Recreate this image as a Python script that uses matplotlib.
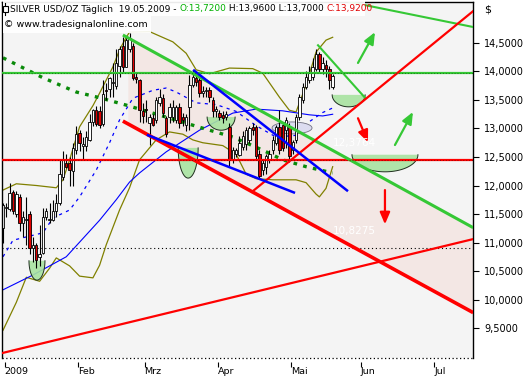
import numpy as np
import pandas as pd
import matplotlib
matplotlib.use("Agg")
import matplotlib.pyplot as plt
from matplotlib.patches import Ellipse, Rectangle
from matplotlib.lines import Line2D
from matplotlib.transforms import IdentityTransform
from matplotlib.ticker import FixedLocator, FixedFormatter

plt.rcParams['font.family'] = ['DejaVu Sans']

# ---------------- data (daily candles, bar index 0 = first trading day 2009) -------------
opens = [11.25, 11.60, 11.58, 11.88, 11.50, 11.80, 11.35, 11.40, 11.50, 10.90,
         10.95, 10.75, 10.82, 11.45, 11.40, 11.40, 11.55, 11.70, 12.15, 12.40,
         12.40, 12.25, 12.62, 12.92, 12.70, 12.70, 12.80, 13.12, 13.32, 13.30,
         13.08, 13.68, 13.70, 13.80, 13.75, 14.10, 14.45, 14.08, 14.40, 14.44,
         13.90, 13.85, 13.30, 13.35, 13.10, 13.18, 13.15, 13.45, 13.53, 13.18,
         13.20, 13.21, 13.15, 13.38, 13.21, 13.06, 13.38, 13.76, 13.88, 13.85,
         13.62, 13.65, 13.68, 13.50, 13.30, 13.27, 13.24, 13.20, 13.03, 12.45,
         12.55, 12.54, 12.68, 12.72, 12.80, 13.03, 13.03, 12.56, 12.27, 12.33,
         12.45, 12.62, 12.74, 13.03, 13.06, 12.97, 13.03, 12.62, 12.80, 13.21,
         13.50, 13.73, 13.85, 13.90, 14.05, 14.30, 14.05, 14.12, 14.05, 13.72]
highs = [11.70, 11.70, 12.05, 11.92, 11.90, 11.85, 11.55, 11.80, 11.55, 11.10,
         11.00, 11.30, 11.60, 11.60, 11.70, 11.75, 11.85, 12.45, 12.60, 12.55,
         12.50, 12.75, 13.05, 12.98, 12.85, 12.95, 13.25, 13.35, 13.40, 13.40,
         13.85, 13.80, 13.90, 14.15, 14.40, 14.45, 14.60, 14.62, 14.68, 14.50,
         13.98, 13.86, 13.45, 13.50, 13.25, 13.25, 13.55, 13.70, 13.60, 13.22,
         13.45, 13.50, 13.42, 13.45, 13.28, 13.25, 13.94, 14.03, 13.95, 13.91,
         13.75, 13.72, 13.73, 13.56, 13.40, 13.32, 13.30, 13.30, 13.09, 12.68,
         12.66, 12.86, 12.95, 13.03, 13.05, 13.10, 13.06, 12.62, 12.45, 12.56,
         12.62, 12.86, 13.06, 13.32, 13.10, 13.20, 13.09, 12.80, 13.25, 13.60,
         13.80, 14.00, 14.10, 14.23, 14.40, 14.35, 14.25, 14.20, 14.10, 13.96]
lows = [11.00, 11.45, 11.55, 11.50, 11.45, 11.20, 11.10, 10.95, 10.80, 10.65,
        10.55, 10.58, 10.80, 11.40, 11.35, 11.38, 11.45, 11.65, 12.10, 12.30,
        12.00, 12.00, 12.55, 12.60, 12.45, 12.60, 12.78, 13.05, 13.05, 13.00,
        13.05, 13.50, 13.55, 13.55, 13.70, 13.90, 13.98, 14.08, 14.35, 13.85,
        13.80, 13.12, 13.10, 13.12, 12.71, 13.05, 13.10, 13.40, 13.20, 12.85,
        13.10, 13.12, 13.10, 13.00, 13.05, 12.95, 12.97, 13.73, 13.75, 13.56,
        13.55, 13.55, 13.47, 13.21, 13.20, 13.15, 13.10, 13.15, 12.33, 12.40,
        12.50, 12.51, 12.62, 12.62, 12.75, 12.88, 12.45, 12.13, 12.18, 12.20,
        12.40, 12.56, 12.71, 12.55, 12.60, 12.65, 12.42, 12.55, 12.75, 13.15,
        13.45, 13.70, 13.80, 13.85, 14.00, 13.98, 13.95, 13.90, 13.70, 13.70]
closes = [11.65, 11.62, 11.86, 11.55, 11.85, 11.35, 11.45, 11.42, 10.90, 10.95,
          10.70, 10.80, 11.45, 11.55, 11.42, 11.55, 11.70, 12.20, 12.45, 12.33,
          12.28, 12.65, 12.90, 12.75, 12.72, 12.85, 13.12, 13.32, 13.08, 13.06,
          13.60, 13.65, 13.88, 13.82, 14.15, 14.40, 14.08, 14.55, 14.58, 13.88,
          13.86, 13.32, 13.22, 13.32, 13.21, 13.06, 13.50, 13.56, 13.27, 12.90,
          13.38, 13.38, 13.38, 13.09, 13.15, 13.21, 13.76, 13.90, 13.82, 13.62,
          13.65, 13.68, 13.56, 13.30, 13.35, 13.21, 13.18, 13.26, 12.45, 12.62,
          12.62, 12.74, 12.86, 12.97, 13.00, 12.97, 12.51, 12.16, 12.39, 12.51,
          12.56, 12.80, 13.03, 12.62, 12.65, 13.15, 12.51, 12.77, 13.21, 13.56,
          13.73, 13.90, 13.97, 14.08, 14.30, 14.05, 14.15, 14.05, 13.85, 13.92]

# Bollinger bands (olive) and middle band (blue dashed), read at sample bars
bb_upper_idx = [0, 4, 10, 16, 18, 20, 23, 27, 29, 33, 35, 37, 38, 44, 51, 55, 58, 62,
                68, 75, 78, 83, 86, 88, 91, 94, 97, 99]
bb_upper_val = [11.92, 12.03, 12.00, 11.96, 12.10, 12.45, 13.03, 13.40, 13.62, 14.08,
                14.38, 14.60, 14.69, 14.70, 14.52, 14.32, 14.03, 13.96, 14.06, 14.05,
                13.97, 13.55, 13.32, 13.29, 13.76, 14.34, 14.55, 14.60]
bb_lower_idx = [0, 4, 7, 11, 14, 16, 20, 23, 27, 29, 31, 35, 38, 41, 46, 50, 54, 57,
                60, 66, 70, 73, 76, 81, 88, 91, 94, 95, 97, 99]
bb_lower_val = [9.46, 9.95, 10.39, 10.32, 10.55, 10.73, 10.59, 10.41, 10.38, 10.60,
                10.96, 11.57, 11.96, 12.45, 12.80, 12.94, 12.90, 12.80, 12.75, 12.70,
                12.55, 12.20, 12.12, 12.10, 12.10, 12.05, 11.85, 11.80, 11.95, 12.33]
bb_mid_idx = [0, 3, 12, 15, 20, 23, 28, 32, 35, 39, 45, 49, 52, 58, 64, 70, 76, 82,
              88, 92, 96, 99]
bb_mid_val = [10.75, 11.04, 11.17, 11.43, 11.57, 11.80, 12.27, 12.75, 13.15, 13.53,
              13.67, 13.71, 13.64, 13.45, 13.42, 13.30, 13.05, 12.85, 12.88, 13.12,
              13.28, 13.36]
# long moving average (blue) and dotted moving average (dark green)
ma_blue_idx = [0, 9, 19, 29, 34, 38, 41, 49, 59, 69, 76, 84, 92, 96, 99]
ma_blue_val = [10.17, 10.43, 10.75, 11.39, 11.75, 12.06, 12.22, 12.59, 12.97, 13.27,
               13.34, 13.31, 13.24, 13.22, 13.25]
ma_green_idx = [0, 12, 22, 29, 37, 45, 49, 58, 69, 78, 84, 91, 99]
ma_green_val = [14.24, 13.89, 13.64, 13.54, 13.41, 13.27, 13.20, 13.04, 12.85, 12.62,
                12.45, 12.33, 12.22]

# drawing tools: trend lines as (bar, price) endpoint pairs
trend_green_main = [(36.0, 14.64), (141.2, 11.26)]
trend_green_top = [(104.0, 15.22), (141.2, 14.78)]
trend_green_short = [(94.6, 14.46), (108.7, 13.54)]
trend_red_channel = [(36.0, 13.13), (141.2, 9.77)]
trend_red_long = [(-0.3, 9.06), (141.2, 11.06)]
trend_red_steep = [(74.8, 11.89), (141.2, 15.06)]
trend_blue_upper = [(57.1, 14.03), (103.6, 11.90)]
trend_blue_lower = [(43.2, 12.89), (87.7, 11.87)]
channel_fill_start = 37.5
level_green = 13.98
level_red = 12.45
level_dotted = 10.90

# half-ellipse markers (centre bar, top price, half width in bars, depth in price)
semi_cx = [10.2, 55.6, 65.5, 103.8, 114.7]
semi_top = [10.68, 12.66, 13.20, 13.59, 12.54]
semi_hw = [2.4, 3.0, 4.2, 4.95, 9.9]
semi_depth = [0.34, 0.53, 0.23, 0.21, 0.30]
ellipse_center = (86.8, 13.01)
ellipse_size = (12.0, 0.21)

arrow_tails = [(106.6, 14.15), (117.7, 12.71), (106.6, 13.18), (114.7, 11.92)]
arrow_heads = [(111.7, 14.69), (123.1, 13.29), (109.6, 12.76), (114.7, 11.32)]
arrow_kinds = ['up', 'up', 'down', 'down']

level_labels = ['12,3764', '10,8275']
level_label_pos = [(99.1, 12.75), (99.1, 11.20)]

y_ticks = [9.5, 10.0, 10.5, 11.0, 11.5, 12.0, 12.5, 13.0, 13.5, 14.0, 14.5]
month_labels = ['2009', 'Feb', 'Mrz', 'Apr', 'Mai', 'Jun', 'Jul']
symbol = 'SILVER USD/OZ Täglich'
date_str = '19.05.2009'

# ---------------- figure ----------------
W, H = 531, 380
fig = plt.figure(figsize=(W / 100, H / 100), dpi=100)
fig.patch.set_facecolor('white')
ax = fig.add_axes([2 / W, 22 / H, 471 / W, 356 / H])
ax.set_facecolor('#f4f4f4')
XMIN, XMAX = -0.30, 141.14
YMIN, YMAX = 8.974, 15.219
ax.set_xlim(XMIN, XMAX)
ax.set_ylim(YMIN, YMAX)

GREEN = '#35c835'
RED = '#ff0000'
BLUE = '#0000ff'
OLIVE = '#808000'

def seg(p):
    return [p[0][0], p[1][0]], [p[0][1], p[1][1]]

# channel fill
gx, gy = seg(trend_green_main)
rx, ry = seg(trend_red_channel)
fx = np.array([channel_fill_start, XMAX + 1])
ax.fill_between(fx, np.interp(fx, gx, gy), np.interp(fx, rx, ry),
                color='#f3e7e4', zorder=0.5, lw=0)

ax.axhline(level_dotted, color='black', lw=0.8, ls=(0, (1, 2.5)), zorder=0.8)

# indicators
ax.plot(bb_upper_idx, bb_upper_val, color=OLIVE, lw=0.9, zorder=1)
ax.plot(bb_lower_idx, bb_lower_val, color=OLIVE, lw=0.9, zorder=1)
ax.plot(bb_mid_idx, bb_mid_val, color=BLUE, lw=0.9, ls=(0, (2.5, 3.5)), zorder=1)
ax.plot(ma_blue_idx, ma_blue_val, color=BLUE, lw=0.8, zorder=1)
ax.plot(ma_green_idx, ma_green_val, color='#0a8a0a', lw=2.4, ls=(0, (1.1, 1.9)),
        zorder=1.2)

# half ellipses
t = np.linspace(np.pi, 2 * np.pi, 60)
for cx, top, hw, d in zip(semi_cx, semi_top, semi_hw, semi_depth):
    xs = cx + hw * np.cos(t)
    ys = top + d * np.sin(t)
    ax.fill(xs, ys, color='#a8e3a0', alpha=0.9, lw=0, zorder=1.5)
    ax.plot(xs, ys, color='#1e2e1e', lw=0.7, zorder=1.6)
ax.add_patch(Ellipse(ellipse_center, ellipse_size[0], ellipse_size[1],
                     facecolor='#dcdcf0', edgecolor='#707080', lw=0.6, zorder=1.5))

# candles
x = np.arange(len(closes))
o = np.array(opens); c = np.array(closes); h = np.array(highs); l = np.array(lows)
ax.vlines(x, l, h, color='black', lw=0.8, zorder=2)
up = c >= o
body_lo = np.minimum(o, c)
body_h = np.maximum(np.abs(c - o), 0.02)
ax.bar(x, body_h, bottom=body_lo, width=0.72,
       color=np.where(up, 'white', '#e00000'), edgecolor='black', lw=0.6, zorder=2.2)

# horizontal levels
ax.axhline(level_green, color=GREEN, lw=1.6, zorder=3)
ax.axhline(level_green, color='#157a15', lw=0.7, ls=(0, (1, 2)), zorder=3.1)
ax.axhline(level_red, color=RED, lw=1.6, zorder=3)
ax.axhline(level_red, color='#990000', lw=0.7, ls=(0, (1, 2)), zorder=3.1)

# trend lines
ax.plot(*seg(trend_green_main), color=GREEN, lw=2.2, zorder=3, solid_capstyle='butt')
ax.plot(*seg(trend_green_top), color=GREEN, lw=1.5, zorder=3)
ax.plot(*seg(trend_green_short), color=GREEN, lw=1.5, zorder=3)
ax.plot(*seg(trend_red_channel), color=RED, lw=2.6, zorder=3, solid_capstyle='butt')
ax.plot(*seg(trend_red_long), color=RED, lw=1.6, zorder=3)
ax.plot(*seg(trend_red_steep), color=RED, lw=1.6, zorder=3)
ax.plot(*seg(trend_blue_upper), color=BLUE, lw=1.8, zorder=3, solid_capstyle='butt')
ax.plot(*seg(trend_blue_lower), color=BLUE, lw=1.8, zorder=3, solid_capstyle='butt')

# arrows
for tail, head, kind in zip(arrow_tails, arrow_heads, arrow_kinds):
    col = GREEN if kind == 'up' else RED
    ax.annotate('', xy=head, xytext=tail, zorder=4,
                arrowprops=dict(arrowstyle='-|>,head_length=0.7,head_width=0.3',
                                color=col, lw=1.6, shrinkA=0, shrinkB=0))

for txt, (px, py) in zip(level_labels, level_label_pos):
    ax.text(px, py, txt, color='white', fontsize=7.5, ha='left', va='center', zorder=4)

# axes styling
for s in ['top', 'left', 'right']:
    ax.spines[s].set_color('black')
    ax.spines[s].set_linewidth(1.0)
ax.spines['bottom'].set_position(('outward', 3))
ax.spines['bottom'].set_visible(False)
ax.plot([XMIN, XMAX], [YMIN, YMIN], color='black', lw=0.9, ls=(0, (1, 2)),
        clip_on=False, zorder=5)

ax.yaxis.tick_right()
ax.yaxis.set_major_locator(FixedLocator(y_ticks))
ax.yaxis.set_major_formatter(FixedFormatter([f'{v:.4f}'.replace('.', ',') for v in y_ticks]))
ax.tick_params(axis='y', direction='out', length=4, width=0.8, labelsize=7, pad=4,
               colors='black')

bdays = pd.bdate_range('2009-01-01', '2009-07-31')
month_pos = [i + 0.5 for i in range(len(bdays)) if i == 0 or bdays[i].month != bdays[i - 1].month]
ax.xaxis.set_major_locator(FixedLocator(month_pos[:len(month_labels)]))
ax.xaxis.set_major_formatter(FixedFormatter(month_labels))
ax.tick_params(axis='x', direction='out', length=3.5, width=0.8, labelsize=6.8, pad=0.3)
for lab in ax.get_xticklabels():
    lab.set_horizontalalignment('left')

fig.text(484 / W, 1 - 10 / H, '$', fontsize=8, ha='left', va='center')

# header boxes and text
fig.add_artist(Rectangle((3, H - 16), 362, 16, transform=IdentityTransform(),
                         facecolor='white', edgecolor='none', alpha=0.92, zorder=5))
fig.add_artist(Rectangle((3, H - 33), 148, 17, transform=IdentityTransform(),
                         facecolor='white', edgecolor='none', alpha=0.92, zorder=5))
# symbol glyph
fig.add_artist(Line2D([5, 5], [H - 15, H - 3], transform=IdentityTransform(),
                      color='black', lw=0.8, zorder=6))
fig.add_artist(Rectangle((3, H - 12), 5, 6, transform=IdentityTransform(),
                         facecolor='white', edgecolor='black', lw=0.8, zorder=6))

def fmt(v):
    return f'{v:.4f}'.replace('.', ',')

segments = [(f'{symbol}  {date_str} - ', 'black'),
            (f'O:{fmt(opens[-1])}', '#00b000'),
            (f' H:{fmt(highs[-1])} L:{fmt(lows[-1])} ', 'black'),
            (f'C:{fmt(closes[-1])}', '#e00000')]
renderer = fig.canvas.get_renderer()
xpos = 10
for s, col in segments:
    tt = fig.text(xpos / W, 1 - 9 / H, s, color=col, fontsize=6.5, ha='left',
                  va='center', zorder=6)
    xpos += tt.get_window_extent(renderer).width
fig.text(4 / W, 1 - 24.5 / H, '© www.tradesignalonline.com', fontsize=6.8,
         ha='left', va='center', zorder=6)

fig.savefig('out.png', dpi=100)
